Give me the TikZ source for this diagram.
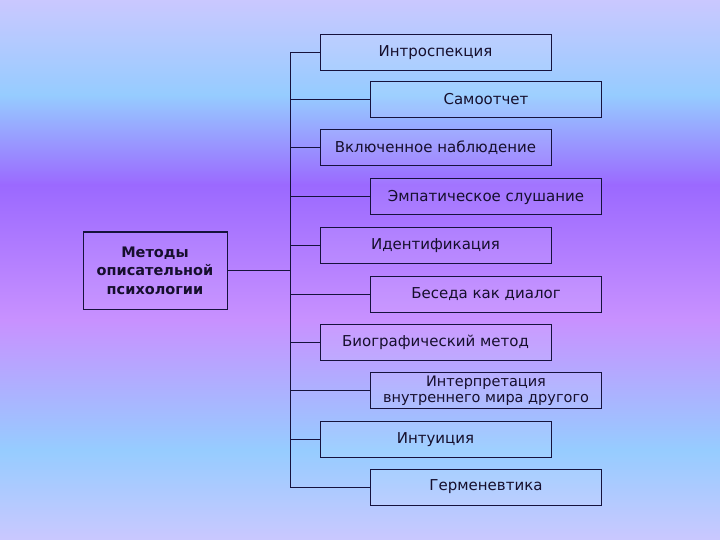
\documentclass[tikz,border=0pt]{standalone}
\usepackage{fontspec}
\setmainfont{DejaVu Sans}
\usepackage{tikz}
\usetikzlibrary{positioning, calc}

\definecolor{bgLav}{RGB}{202,200,255}
\definecolor{bgSky}{RGB}{150,204,255}
\definecolor{bgViolet}{RGB}{155,105,255}
\definecolor{bgLilac}{RGB}{200,145,255}
\definecolor{boxLine}{RGB}{22,18,60}
\definecolor{boxText}{RGB}{22,15,45}

\begin{document}
\begin{tikzpicture}[x=1pt, y=-1pt,
    method/.style={rectangle, draw=boxLine, line width=1pt, fill=white, fill opacity=0.08,
      text opacity=1, text=boxText, minimum width=231pt, minimum height=36pt,
      inner sep=2pt, align=center, font=\fontsize{15}{15}\selectfont},
    root/.style={rectangle, draw=boxLine, line width=1pt, fill=white, fill opacity=0.06,
      text opacity=1, text=boxText, minimum width=144pt, minimum height=77pt,
      align=center, font=\bfseries\fontsize{14.5}{18.5}\selectfont},
    link/.style={boxLine, line width=1pt}]
  % background bands
  \useasboundingbox (0,0) rectangle (720,540);
  \shade[top color=bgLav, bottom color=bgSky] (0,0) rectangle (720,95);
  \shade[top color=bgSky, bottom color=bgViolet] (0,95) rectangle (720,185);
  \shade[top color=bgViolet, bottom color=bgLilac] (0,185) rectangle (720,320);
  \shade[top color=bgLilac, bottom color=bgSky] (0,320) rectangle (720,450);
  \shade[top color=bgSky, bottom color=bgLav] (0,450) rectangle (720,540);

  % root
  \node[root] (root) at (155,270.5) {Методы\\описательной\\психологии};
  \coordinate (spine) at (290,270.5);

  % methods, left column
  \node[method] (intro) at (435.5,53) {Интроспекция};
  \node[method] (observ) at (435.5,148) {Включенное наблюдение};
  \node[method] (ident) at (435.5,245.5) {Идентификация};
  \node[method] (biogr) at (435.5,342.5) {Биографический метод};
  \node[method] (intuit) at (435.5,439.5) {Интуиция};

  % methods, right column
  \node[method] (report) at (486,99.5) {Самоотчет};
  \node[method] (empath) at (486,197) {Эмпатическое слушание};
  \node[method] (dialog) at (486,294) {Беседа как диалог};
  \node[method, font=\fontsize{14.5}{15.5}\selectfont] (interp) at (486,390.5) {Интерпретация\\внутреннего мира другого};
  \node[method] (herm) at (486,487) {Герменевтика};

  % connectors
  \draw[link] (root.east) -- (spine);
  \draw[link] (intro.west -| spine) -- (herm.west -| spine);
  \foreach \m in {intro, report, observ, empath, ident, dialog, biogr, interp, intuit, herm}
    \draw[link] (\m.west) -- (\m.west -| spine);
\end{tikzpicture}
\end{document}
